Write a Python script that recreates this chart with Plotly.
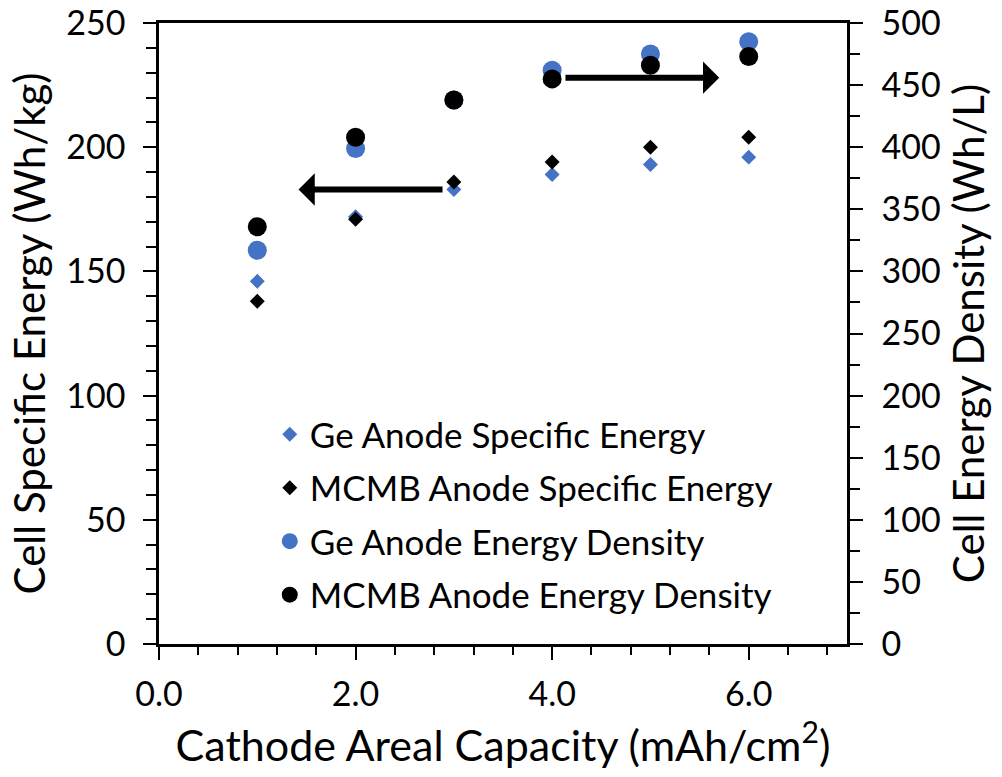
import plotly.graph_objects as go

# Data
capacity = [1, 2, 3, 4, 5, 6]  # cathode areal capacity, mAh/cm2
ge_specific_energy = [146, 172, 183, 189, 193, 196]      # Wh/kg (left axis)
mcmb_specific_energy = [138, 171, 186, 194, 200, 204]    # Wh/kg (left axis)
ge_energy_density = [317, 399, 438, 462, 475, 485]       # Wh/L (right axis)
mcmb_energy_density = [336, 408, 438, 455, 466, 473]     # Wh/L (right axis)

x_ticks = [0, 2, 4, 6]
x_tick_text = ["0.0", "2.0", "4.0", "6.0"]

BLUE = "#4472C4"
FONT = "Lato"

fig = go.Figure()
fig.add_trace(go.Scatter(x=capacity, y=ge_specific_energy, mode="markers",
                         name="Ge Anode Specific Energy", legendgroup="a",
                         marker=dict(symbol="diamond", size=11.5, color=BLUE)))
fig.add_trace(go.Scatter(x=capacity, y=mcmb_specific_energy, mode="markers",
                         name="MCMB Anode Specific Energy", legendgroup="b",
                         marker=dict(symbol="diamond", size=11.5, color="black")))
fig.add_trace(go.Scatter(x=capacity, y=ge_energy_density, mode="markers", yaxis="y2",
                         name="Ge Anode Energy Density", legendgroup="c",
                         marker=dict(symbol="circle", size=19, color=BLUE)))
fig.add_trace(go.Scatter(x=capacity, y=mcmb_energy_density, mode="markers", yaxis="y2",
                         name="MCMB Anode Energy Density", legendgroup="d",
                         marker=dict(symbol="circle", size=19, color="black")))

axis_common = dict(showline=True, linecolor="black", linewidth=2.5, showgrid=False,
                   zeroline=False, ticks="outside", ticklen=13, tickwidth=2,
                   tickcolor="black", automargin=False,
                   tickfont=dict(family=FONT, size=34, color="black"))

fig.update_layout(
    width=1002, height=777,
    margin=dict(l=159, r=155, t=23, b=133),
    paper_bgcolor="white", plot_bgcolor="white",
    font=dict(family=FONT, color="black"),
    xaxis=dict(range=[0, 7], tickvals=x_ticks, ticktext=x_tick_text, mirror=True,
               minor=dict(dtick=0.4, ticks="outside", ticklen=8, tickwidth=2, tickcolor="black"),
               title=dict(text="Cathode Areal Capacity (mAh/cm<sup>2</sup>)",
                          font=dict(family=FONT, size=43), standoff=18),
               ticklabelstandoff=5,
               **axis_common),
    yaxis=dict(range=[0, 250], dtick=50,
               minor=dict(dtick=10, ticks="outside", ticklen=10, tickwidth=2, tickcolor="black"),
               title=dict(text="Cell Specific Energy (Wh/kg)", font=dict(family=FONT, size=42),
                          standoff=8),
               ticklabelstandoff=11,
               **axis_common),
    yaxis2=dict(range=[0, 500], dtick=50, overlaying="y", side="right", anchor="x",
                minor=dict(dtick=25, ticks="outside", ticklen=10, tickwidth=2, tickcolor="black"),
                title=dict(text="Cell Energy Density (Wh/L)", font=dict(family=FONT, size=42),
                           standoff=15),
                ticklabelstandoff=12,
                **axis_common),
    legend=dict(x=0.161, y=0.385, xanchor="left", yanchor="top",
                font=dict(family=FONT, size=35, color="black"),
                bgcolor="rgba(0,0,0,0)", tracegroupgap=5, traceorder="grouped"),
    showlegend=True,
)

# Arrows pointing to the axis each group belongs to
fig.add_annotation(x=1.42, y=183, ax=2.9, ay=183, xref="x", yref="y", axref="x", ayref="y",
                   text="", showarrow=True, arrowhead=1, arrowsize=0.9, arrowwidth=6,
                   arrowcolor="black")
fig.add_annotation(x=5.7, y=228, ax=4.12, ay=228, xref="x", yref="y", axref="x", ayref="y",
                   text="", showarrow=True, arrowhead=1, arrowsize=0.9, arrowwidth=6,
                   arrowcolor="black")

fig.write_html("out.html")
